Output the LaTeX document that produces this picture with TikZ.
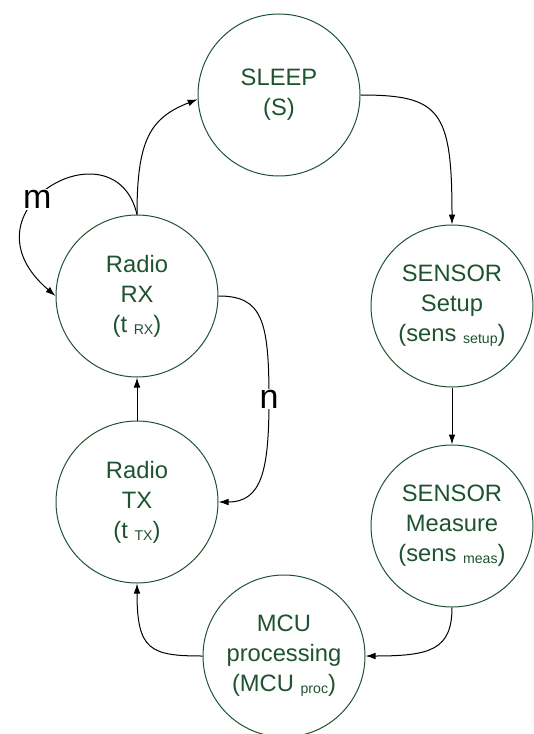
\documentclass[tikz,border=0pt]{standalone}
\usepackage{fontspec}
\setmainfont{Liberation Sans}
\usetikzlibrary{arrows.meta}
\definecolor{dgreen}{RGB}{30,82,48}
\newcommand{\sbs}[1]{\raisebox{-1.5pt}{\fontsize{10.6}{11}\selectfont #1}}
\tikzset{
  state/.style={circle, draw=dgreen, line width=0.75pt, minimum size=121.5pt, inner sep=0pt,
    text=dgreen, align=center, font=\fontsize{17.8}{22.5}\selectfont},
  arr/.style={draw=black, line width=0.75pt, -{Latex[length=7.5pt,width=5pt]}},
  lab/.style={fill=white, inner sep=1pt, text=black, font=\fontsize{25.5}{26}\selectfont}
}
\begin{document}
\begin{tikzpicture}[x=0.75pt, y=-0.75pt]
\useasboundingbox (0,0) rectangle (534,734);
\node[state] (S) at (279,95) {SLEEP\\(S)};
\node[state] (RX) at (137,296) {Radio\\RX\\(t \sbs{RX})};
\node[state] (TX) at (137,502) {Radio\\TX\\(t \sbs{TX})};
\node[state] (SU) at (452,306) {SENSOR\\Setup\\(sens \sbs{setup})};
\node[state] (SM) at (452,526) {SENSOR\\Measure\\(sens \sbs{meas})};
\node[state] (MCU) at (284,656) {MCU\\processing\\(MCU \sbs{proc})};

\draw[arr] (RX.north) .. controls (137,140) and (150,118) .. (S.183);
\draw[arr] (S.east) .. controls (440,95) and (452,110) .. (SU.north);
\draw[arr] (SU.south) -- (SM.north);
\draw[arr] (SM.south) .. controls (452,650) and (430,656) .. (MCU.east);
\draw[arr] (MCU.west) .. controls (150,656) and (137,650) .. (TX.south);
\draw[arr] (TX.north) -- (RX.south);
\draw[arr] (RX.north) .. controls (115,120) and (-45,210) .. node[lab, pos=0.58] (m) {m} (RX.west);
\draw[arr] (RX.east) .. controls (262,296) and (269,320) .. (269,399)
  node[lab] (n) {n}
  .. controls (269,470) and (262,502) .. (TX.east);
\end{tikzpicture}
\end{document}
